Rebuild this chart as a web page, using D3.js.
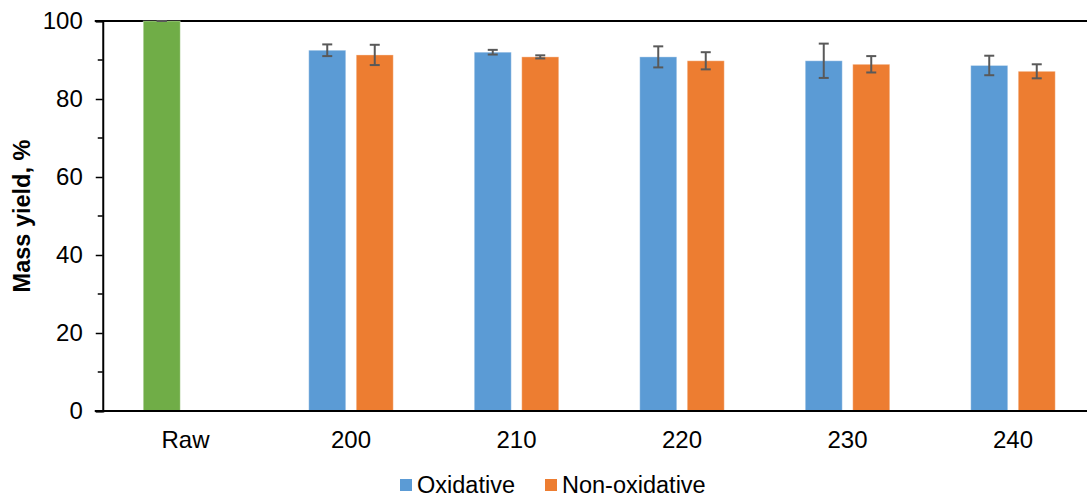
<!DOCTYPE html>
<html>
<head>
<meta charset="utf-8">
<script src="https://cdn.jsdelivr.net/npm/d3@7"></script>
<style>
  body { margin: 0; background: #fff; }
  svg { display: block; font-family: "Liberation Sans", Arial, sans-serif; }
</style>
</head>
<body>
<div id="chart"></div>
<script>
// chart data
const categories = ["Raw", "200", "210", "220", "230", "240"];
const series = ["Oxidative", "Non-oxidative"];
const oxidative = [100, 92.5, 92.0, 90.8, 89.8, 88.6];
const oxidativeErr = [0, 1.5, 0.6, 2.7, 4.4, 2.5];
const nonOxidative = [null, 91.3, 90.8, 89.8, 88.9, 87.1];
const nonOxidativeErr = [null, 2.6, 0.4, 2.2, 2.1, 1.8];
const yTicks = [0, 20, 40, 60, 80, 100];
const yMinorTicks = [10, 30, 50, 70, 90];

const colors = { "Oxidative": "#5b9bd5", "Non-oxidative": "#ed7d31", "Raw": "#70ad47" };

const width = 1087, height = 497;
const margin = { top: 21, left: 102.75, bottom: 86 };
const step = 165.5;
const fontSize = 24;

const svg = d3.select("#chart").append("svg")
    .attr("width", width)
    .attr("height", height);

// scales
const x = d3.scaleBand()
    .domain(categories)
    .range([margin.left, margin.left + step * categories.length])
    .padding(0);

const xInner = d3.scaleBand()
    .domain(series)
    .range([-42.25, 42.25])
    .paddingInner(0.221)
    .paddingOuter(0);

const y = d3.scaleLinear()
    .domain([0, 100])
    .range([height - margin.bottom, margin.top]);

// flatten rows
const rows = [];
categories.forEach((c, i) => {
    if (oxidative[i] != null) rows.push({ cat: c, s: "Oxidative", v: oxidative[i], e: oxidativeErr[i] });
    if (nonOxidative[i] != null) rows.push({ cat: c, s: "Non-oxidative", v: nonOxidative[i], e: nonOxidativeErr[i] });
});
const cx = d => x(d.cat) + x.bandwidth() / 2 + xInner(d.s) + xInner.bandwidth() / 2;

// top frame line at 100
svg.append("line")
    .attr("x1", margin.left - 8).attr("x2", width)
    .attr("y1", y(100)).attr("y2", y(100))
    .attr("stroke", "#000").attr("stroke-width", 1.8);

// bars
svg.selectAll(".bar")
    .data(rows)
    .enter().append("rect")
    .attr("class", "bar")
    .attr("x", d => cx(d) - xInner.bandwidth() / 2)
    .attr("width", xInner.bandwidth())
    .attr("y", d => y(d.v))
    .attr("height", d => y(0) - y(d.v))
    .attr("fill", d => d.cat === "Raw" ? colors.Raw : colors[d.s])
    .attr("stroke", "#fff")
    .attr("stroke-opacity", 0.35)
    .attr("stroke-width", 1);

// error bars
const err = svg.append("g")
    .attr("stroke", "#595959")
    .attr("stroke-width", 2);
rows.forEach(d => {
    const c = cx(d);
    err.append("line").attr("x1", c).attr("x2", c)
        .attr("y1", y(d.v + d.e)).attr("y2", y(d.v - d.e));
    [d.v + d.e, d.v - d.e].forEach(v => {
        err.append("line").attr("x1", c - 5).attr("x2", c + 5)
            .attr("y1", y(v)).attr("y2", y(v));
    });
});

// y axis
const yAxis = svg.append("g")
    .attr("transform", `translate(${margin.left},0)`)
    .call(d3.axisLeft(y).tickValues(yTicks).tickSize(7).tickPadding(13));
yAxis.select(".domain").attr("stroke", "#000").attr("stroke-width", 2);
yAxis.selectAll(".tick line").attr("stroke", "#000").attr("stroke-width", 1.5);
yAxis.selectAll(".tick text")
    .attr("font-size", fontSize)
    .attr("font-family", "Liberation Sans, Arial, sans-serif")
    .attr("fill", "#000");

svg.append("g")
    .selectAll("line")
    .data(yMinorTicks)
    .enter().append("line")
    .attr("x1", margin.left - 5).attr("x2", margin.left)
    .attr("y1", d => y(d)).attr("y2", d => y(d))
    .attr("stroke", "#000").attr("stroke-width", 1.5);

// x axis
const xAxis = svg.append("g")
    .attr("transform", `translate(0,${y(0)})`)
    .call(d3.axisBottom(x).tickSize(0).tickPadding(20));
xAxis.select(".domain").remove();
xAxis.selectAll(".tick text")
    .attr("font-size", fontSize)
    .attr("font-family", "Liberation Sans, Arial, sans-serif")
    .attr("fill", "#000");
svg.append("line")
    .attr("x1", margin.left - 8).attr("x2", width)
    .attr("y1", y(0)).attr("y2", y(0))
    .attr("stroke", "#000").attr("stroke-width", 1.8);

// y axis label
svg.append("text")
    .attr("transform", `translate(22,${(y(0) + y(100)) / 2}) rotate(-90)`)
    .attr("text-anchor", "middle")
    .attr("dy", "0.36em")
    .attr("font-size", 23.5)
    .attr("font-weight", "bold")
    .attr("fill", "#000")
    .text("Mass yield, %");

// legend
const legendX = [400, 545];
const legend = svg.append("g");
series.forEach((s, i) => {
    legend.append("rect")
        .attr("x", legendX[i]).attr("y", 479)
        .attr("width", 12).attr("height", 12)
        .attr("fill", colors[s]);
    legend.append("text")
        .attr("x", legendX[i] + 17).attr("y", 484.5)
        .attr("dy", "0.36em")
        .attr("font-size", 23.5)
        .attr("fill", "#000")
        .text(s);
});
</script>
</body>
</html>
